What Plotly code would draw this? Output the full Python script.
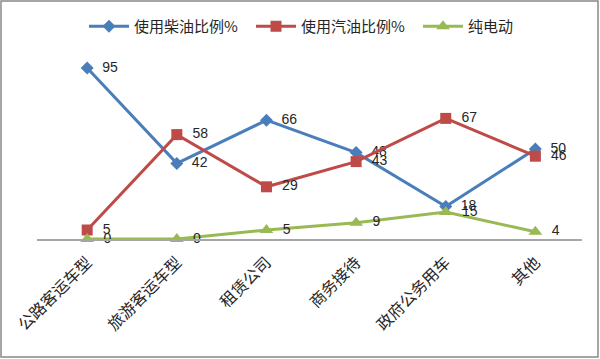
import plotly.graph_objects as go

categories = ["公路客运车型", "旅游客运车型", "租赁公司", "商务接待", "政府公务用车", "其他"]
diesel = [95, 42, 66, 48, 18, 50]
gasoline = [5, 58, 29, 43, 67, 46]
electric = [0, 0, 5, 9, 15, 4]
series_names = ["使用柴油比例%", "使用汽油比例%", "纯电动"]

FONT = "Liberation Sans, Noto Sans CJK SC, sans-serif"
fig = go.Figure()
styles = [
    (diesel, "#4A7EBB", "diamond", 10),
    (gasoline, "#BE4B48", "square", 11),
    (electric, "#98B954", "triangle-up", 12),
]
for name, (vals, col, sym, sz) in zip(series_names, styles):
    fig.add_trace(go.Scatter(
        x=categories, y=vals, name=name, mode="lines+markers+text",
        text=["  " + str(v) for v in vals], textposition="middle right",
        textfont=dict(size=14, color="#262626", family=FONT),
        line=dict(color=col, width=3),
        marker=dict(symbol=sym, size=sz, color=col),
        cliponaxis=False,
    ))

L, R, T, B = 37, 18, 59, 120
W, H = 600, 359
pw, ph = W - L - R, H - T - B
fig.update_layout(
    width=W, height=H,
    margin=dict(l=L, r=R, t=T, b=B, autoexpand=False),
    paper_bgcolor="white", plot_bgcolor="white",
    font=dict(family=FONT, size=14, color="#262626"),
    showlegend=True,
    legend=dict(orientation="h", xref="container", yref="container",
                x=84 / W, xanchor="left", y=1 - 10 / H, yanchor="top",
                font=dict(size=15, family="Noto Sans CJK SC", color="#262626"),
                itemwidth=40, tracegroupgap=0, entrywidth=112, entrywidthmode="pixels"),
    xaxis=dict(type="category", range=[-0.56, 5.52], showgrid=False,
               showline=True, linecolor="#A6A6A6", linewidth=1.5,
               ticks="", tickangle=-45, automargin=False, ticklabelstandoff=6,
               tickfont=dict(size=16, family="Noto Sans CJK SC", color="#262626")),
    yaxis=dict(range=[0, 100], visible=False, showgrid=False, zeroline=False,
               automargin=False),
    shapes=[dict(type="rect", xref="paper", yref="paper",
                 x0=(1 - L) / pw, x1=(W - 2 - L) / pw,
                 y0=-(B - 2) / ph, y1=1 + (T - 1) / ph,
                 line=dict(color="#888888", width=1.5))],
)
fig.write_html("out.html", config={"displayModeBar": False},
               post_script="document.body.style.margin='0px';")
